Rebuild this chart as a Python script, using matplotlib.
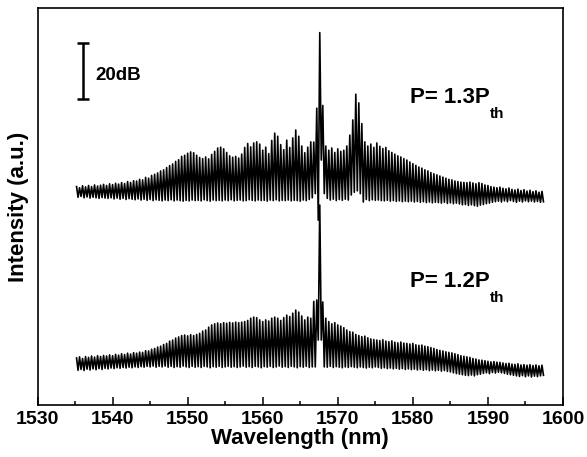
import numpy as np
import matplotlib
matplotlib.use("Agg")
import matplotlib.pyplot as plt

plt.rcParams['font.family'] = ['Liberation Sans', 'DejaVu Sans']
plt.rcParams['font.weight'] = 'bold'

# fringe peak positions (nm); each fringe minimum sits half a period later
first_peak_nm = 1535.2
fringe_period_nm = 0.4
n_fringes = 156

# P = 1.3 Pth spectrum, relative dB, one value per fringe
peaks_13 = [
    78.0, 77.6, 78.3, 77.9, 78.4, 78.0, 78.6, 78.2, 78.5, 78.8,
    78.4, 79.0, 78.7, 79.2, 78.9, 79.4, 79.1, 79.8, 79.5, 80.1,
    80.0, 80.6, 80.4, 81.3, 81.0, 82.0, 82.4, 82.9, 83.6, 84.0,
    84.8, 85.5, 86.1, 87.0, 87.6, 88.8, 89.2, 89.9, 90.4, 90.1,
    89.2, 88.4, 88.0, 88.6, 87.9, 89.5, 90.6, 91.8, 92.1, 91.5,
    90.2, 89.0, 88.5, 88.8, 88.2, 89.6, 92.0, 93.4, 92.2, 93.6,
    94.0, 93.2, 91.0, 92.1, 89.8, 94.5, 97.1, 96.0, 93.0, 91.2,
    94.6, 92.0, 95.4, 98.2, 96.0, 92.5, 90.1, 92.1, 94.0, 93.9,
    106.0, 133.0, 107.0, 92.5, 91.0, 91.8, 90.2, 91.5, 90.6, 91.0,
    92.5, 96.4, 101.8, 111.0, 107.9, 100.5, 94.0, 92.5, 93.2, 92.0,
    93.6, 92.4, 91.6, 92.0, 90.8, 90.2, 89.6, 89.0, 88.6, 88.0,
    87.5, 86.8, 86.2, 85.6, 85.0, 84.6, 84.0, 83.6, 83.0, 82.6,
    82.2, 81.8, 81.4, 81.0, 80.6, 80.4, 80.0, 79.8, 79.6, 79.5,
    79.4, 79.6, 79.3, 79.0, 79.4, 79.1, 78.6, 78.4, 78.0, 77.8,
    77.6, 77.8, 77.4, 77.2, 77.5, 77.0, 76.8, 77.1, 76.6, 76.9,
    76.4, 76.7, 76.2, 76.5, 76.0, 76.3,
]
dips_13 = [
    74.2, 74.5, 74.0, 74.3, 73.9, 74.2, 74.0, 73.8, 74.1, 73.9,
    73.8, 74.0, 73.6, 73.9, 73.5, 73.8, 73.4, 73.7, 73.5, 73.3,
    73.6, 73.2, 73.5, 73.1, 73.4, 73.0, 73.3, 73.1, 72.9, 73.2,
    73.0, 73.3, 72.9, 73.2, 73.0, 72.8, 73.1, 72.9, 73.2, 73.0,
    73.1, 72.9, 73.3, 73.0, 72.8, 73.2, 73.0, 73.1, 72.9, 73.2,
    73.0, 73.3, 72.9, 73.1, 73.2, 72.9, 73.0, 73.3, 73.1, 72.9,
    73.2, 73.0, 73.1, 72.8, 73.2, 73.0, 73.3, 72.9, 73.1, 73.0,
    73.2, 72.9, 73.1, 73.0, 72.8, 73.2, 73.0, 73.4, 74.0, 75.5,
    66.0, 87.5, 75.5, 73.8, 73.2, 73.5, 73.0, 73.4, 73.1, 73.5,
    73.2, 75.0, 76.0, 76.5, 75.5, 72.5, 73.4, 73.0, 73.3, 73.1,
    73.2, 73.0, 72.9, 73.1, 72.8, 73.0, 72.7, 72.9, 72.6, 72.8,
    72.6, 72.8, 72.5, 72.7, 72.4, 72.6, 72.3, 72.5, 72.2, 72.4,
    72.3, 72.1, 72.4, 72.0, 72.2, 71.9, 72.1, 71.8, 71.5, 71.6,
    71.3, 71.5, 71.2, 71.0, 71.4, 71.6, 71.9, 72.1, 72.4, 72.6,
    72.8, 72.5, 72.9, 72.6, 73.0, 72.7, 72.4, 72.8, 72.5, 72.9,
    72.6, 72.8, 72.5, 72.7, 72.4, 72.6,
]

# P = 1.2 Pth spectrum
peaks_12 = [
    16.8, 17.2, 16.6, 17.3, 17.0, 17.5, 17.1, 17.6, 17.3, 17.7,
    17.5, 17.9, 17.6, 18.1, 17.8, 18.3, 18.0, 18.5, 18.2, 18.7,
    18.5, 18.9, 18.8, 19.4, 19.3, 19.9, 20.2, 20.7, 21.0, 21.6,
    22.0, 22.8, 23.2, 23.9, 24.3, 24.8, 25.0, 24.7, 25.1, 24.8,
    25.2, 25.6, 26.4, 26.8, 27.8, 28.6, 29.0, 29.3, 29.0, 29.4,
    29.2, 29.5, 29.3, 29.6, 29.4, 29.6, 29.8, 30.2, 31.0, 31.4,
    31.2, 30.4, 29.8, 30.4, 30.0, 31.0, 31.4, 31.0, 30.2, 31.2,
    32.1, 31.6, 32.8, 33.9, 33.2, 31.8, 30.4, 31.4, 31.0, 37.0,
    37.5, 71.4, 36.8, 31.0, 29.8, 29.0, 29.4, 28.6, 28.2, 27.6,
    26.8, 26.2, 26.0, 25.2, 24.8, 24.4, 24.6, 24.0, 23.6, 23.4,
    23.2, 23.0, 23.3, 22.8, 22.6, 22.9, 22.4, 22.2, 22.5, 22.1,
    22.0, 21.8, 22.0, 21.5, 21.3, 21.4, 21.0, 20.8, 20.5, 20.2,
    19.8, 19.5, 19.3, 19.0, 18.8, 18.6, 18.3, 18.0, 17.6, 17.4,
    17.2, 17.0, 16.6, 16.4, 16.1, 16.0, 15.8, 15.6, 15.4, 15.5,
    15.3, 15.2, 15.0, 14.8, 14.9, 14.6, 14.5, 14.7, 14.3, 14.4,
    14.2, 14.4, 14.1, 14.3, 14.0, 14.2,
]
dips_12 = [
    12.4, 12.7, 12.3, 12.8, 12.5, 12.9, 12.6, 13.0, 12.7, 13.1,
    12.9, 13.2, 13.0, 13.3, 13.1, 13.4, 13.2, 13.5, 13.3, 13.6,
    13.4, 13.7, 13.5, 13.8, 13.6, 13.9, 13.5, 13.8, 13.6, 13.9,
    13.5, 13.8, 13.4, 13.7, 13.5, 13.9, 13.6, 13.4, 13.8, 13.5,
    13.7, 13.4, 13.8, 13.6, 13.3, 13.7, 13.5, 13.8, 13.4, 13.6,
    13.8, 13.5, 13.7, 13.4, 13.6, 13.9, 13.5, 13.7, 13.4, 13.8,
    13.6, 13.3, 13.7, 13.5, 13.8, 13.4, 13.6, 13.9, 13.5, 13.7,
    13.4, 13.8, 13.6, 13.3, 13.7, 13.5, 13.8, 13.4, 13.6, 13.6,
    23.2, 23.2, 13.6, 13.5, 13.8, 13.4, 13.7, 13.5, 13.3, 13.6,
    13.4, 13.7, 13.5, 13.3, 13.6, 13.4, 13.2, 13.5, 13.3, 13.6,
    13.4, 13.1, 13.3, 13.0, 13.2, 12.9, 13.1, 12.8, 13.0, 12.7,
    12.9, 12.6, 12.8, 12.5, 12.7, 12.4, 12.6, 12.3, 12.5, 12.2,
    12.4, 12.1, 12.3, 12.0, 11.8, 11.5, 11.2, 11.0, 10.8, 10.6,
    10.5, 10.7, 10.4, 10.8, 11.0, 11.3, 11.5, 11.2, 11.6, 11.4,
    11.7, 11.5, 11.3, 11.0, 10.8, 10.6, 10.4, 10.2, 10.5, 10.1,
    10.4, 10.0, 10.3, 10.1, 10.4, 10.6,
]

labels = ['P= 1.3P', 'P= 1.2P']


def fringe_trace(peaks, dips):
    """Interleave fringe maxima and minima into one trace."""
    wl_peak = first_peak_nm + fringe_period_nm * np.arange(n_fringes)
    wl_dip = wl_peak + fringe_period_nm / 2
    x = np.column_stack([wl_peak, wl_dip]).ravel()
    y = np.column_stack([peaks, dips]).ravel()
    return x, y


fig = plt.figure(figsize=(5.87, 4.57), dpi=100)
ax = fig.add_axes([0.0639, 0.1138, 0.8952, 0.8687])

for peaks, dips in [(peaks_13, dips_13), (peaks_12, dips_12)]:
    x, y = fringe_trace(peaks, dips)
    ax.plot(x, y, color='black', lw=1.2)

# power labels, with a lowered "th" subscript
for label, ybase in zip(labels, [107.9, 42.1]):
    t = ax.text(1579.6, ybase, label, fontsize=16, fontweight='bold',
                va='baseline', ha='left')
    ax.annotate('th', xy=(1, 0), xycoords=t, xytext=(0.5, -7),
                textcoords='offset points', fontsize=11, fontweight='bold',
                va='baseline', ha='left')

# 20 dB scale bar
ax.errorbar([1536.1], [119.3], yerr=[10], color='black', lw=1.8,
            capsize=4.3, capthick=1.8)
ax.text(1537.7, 116.1, '20dB', fontsize=13.5, fontweight='bold',
        va='baseline', ha='left')

ax.set_xlim(1530, 1600)
ax.set_ylim(0, 141.8)
ax.set_xticks(np.arange(1530, 1601, 10))
ax.set_xticks(np.arange(1535, 1600, 10), minor=True)
ax.set_yticks([])
ax.tick_params(axis='x', which='major', direction='in', length=5.8,
               width=1.1, labelsize=14, pad=4)
ax.tick_params(axis='x', which='minor', direction='in', length=2.9,
               width=1.1)
for lab in ax.get_xticklabels():
    lab.set_fontweight('bold')
for sp in ax.spines.values():
    sp.set_linewidth(1.2)

ax.set_xlabel('Wavelength (nm)', fontsize=16, fontweight='bold', labelpad=0)
ax.set_ylabel('Intensity (a.u.)', fontsize=16, fontweight='bold', labelpad=6)

fig.savefig('out.png', dpi=100)
